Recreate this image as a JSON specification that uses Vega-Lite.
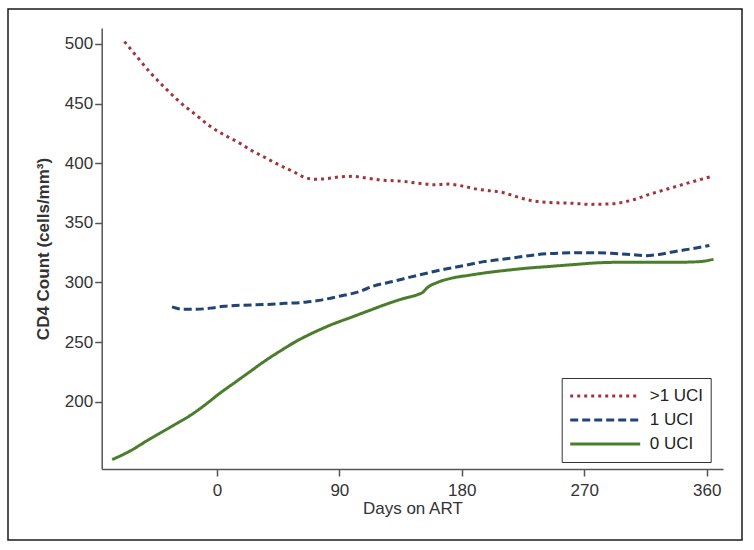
{
  "$schema": "https://vega.github.io/schema/vega-lite/v6.json",
  "autosize": {"type": "none"},
  "width": 734,
  "height": 531,
  "padding": {"left": 8, "top": 9, "right": 12, "bottom": 10},
  "background": "white",
  "config": {
    "view": {"stroke": "#1a1a1a", "strokeWidth": 1.5},
    "font": "Liberation Sans"
  },
  "data": {
    "values": [
      {"group": ">1 UCI", "day": -68, "cd4": 502},
      {"group": ">1 UCI", "day": -60, "cd4": 491},
      {"group": ">1 UCI", "day": -49, "cd4": 476},
      {"group": ">1 UCI", "day": -38, "cd4": 463},
      {"group": ">1 UCI", "day": -28, "cd4": 452},
      {"group": ">1 UCI", "day": -16, "cd4": 441},
      {"group": ">1 UCI", "day": -5, "cd4": 431},
      {"group": ">1 UCI", "day": 5, "cd4": 424},
      {"group": ">1 UCI", "day": 15, "cd4": 418},
      {"group": ">1 UCI", "day": 25, "cd4": 411},
      {"group": ">1 UCI", "day": 35, "cd4": 405},
      {"group": ">1 UCI", "day": 45, "cd4": 399},
      {"group": ">1 UCI", "day": 56, "cd4": 393},
      {"group": ">1 UCI", "day": 65, "cd4": 388},
      {"group": ">1 UCI", "day": 72, "cd4": 386.5},
      {"group": ">1 UCI", "day": 80, "cd4": 387},
      {"group": ">1 UCI", "day": 90, "cd4": 388.5},
      {"group": ">1 UCI", "day": 100, "cd4": 389},
      {"group": ">1 UCI", "day": 110, "cd4": 387.5},
      {"group": ">1 UCI", "day": 120, "cd4": 386},
      {"group": ">1 UCI", "day": 135, "cd4": 385},
      {"group": ">1 UCI", "day": 150, "cd4": 383},
      {"group": ">1 UCI", "day": 160, "cd4": 382},
      {"group": ">1 UCI", "day": 170, "cd4": 382.5},
      {"group": ">1 UCI", "day": 180, "cd4": 381},
      {"group": ">1 UCI", "day": 190, "cd4": 378.5},
      {"group": ">1 UCI", "day": 200, "cd4": 377},
      {"group": ">1 UCI", "day": 210, "cd4": 375.5},
      {"group": ">1 UCI", "day": 220, "cd4": 372},
      {"group": ">1 UCI", "day": 230, "cd4": 369},
      {"group": ">1 UCI", "day": 245, "cd4": 367},
      {"group": ">1 UCI", "day": 260, "cd4": 366.5},
      {"group": ">1 UCI", "day": 275, "cd4": 365.5},
      {"group": ">1 UCI", "day": 290, "cd4": 366},
      {"group": ">1 UCI", "day": 305, "cd4": 369},
      {"group": ">1 UCI", "day": 318, "cd4": 374},
      {"group": ">1 UCI", "day": 330, "cd4": 378},
      {"group": ">1 UCI", "day": 345, "cd4": 383},
      {"group": ">1 UCI", "day": 364, "cd4": 389},

      {"group": "1 UCI", "day": -33, "cd4": 279.5},
      {"group": "1 UCI", "day": -25, "cd4": 277.5},
      {"group": "1 UCI", "day": -15, "cd4": 277.5},
      {"group": "1 UCI", "day": -5, "cd4": 278.5},
      {"group": "1 UCI", "day": 5, "cd4": 280},
      {"group": "1 UCI", "day": 20, "cd4": 281},
      {"group": "1 UCI", "day": 35, "cd4": 281.5},
      {"group": "1 UCI", "day": 50, "cd4": 282.5},
      {"group": "1 UCI", "day": 65, "cd4": 283.5},
      {"group": "1 UCI", "day": 75, "cd4": 285},
      {"group": "1 UCI", "day": 90, "cd4": 288.5},
      {"group": "1 UCI", "day": 105, "cd4": 292.5},
      {"group": "1 UCI", "day": 115, "cd4": 297},
      {"group": "1 UCI", "day": 130, "cd4": 301},
      {"group": "1 UCI", "day": 142, "cd4": 304.5},
      {"group": "1 UCI", "day": 155, "cd4": 308},
      {"group": "1 UCI", "day": 169, "cd4": 311.5},
      {"group": "1 UCI", "day": 183, "cd4": 314.5},
      {"group": "1 UCI", "day": 196, "cd4": 317.5},
      {"group": "1 UCI", "day": 210, "cd4": 319.5},
      {"group": "1 UCI", "day": 223, "cd4": 321.5},
      {"group": "1 UCI", "day": 236, "cd4": 323.5},
      {"group": "1 UCI", "day": 250, "cd4": 324.5},
      {"group": "1 UCI", "day": 265, "cd4": 325},
      {"group": "1 UCI", "day": 277, "cd4": 325},
      {"group": "1 UCI", "day": 290, "cd4": 324.5},
      {"group": "1 UCI", "day": 304, "cd4": 323.5},
      {"group": "1 UCI", "day": 315, "cd4": 322.5},
      {"group": "1 UCI", "day": 325, "cd4": 323.5},
      {"group": "1 UCI", "day": 336, "cd4": 325.8},
      {"group": "1 UCI", "day": 350, "cd4": 328.5},
      {"group": "1 UCI", "day": 362, "cd4": 331},

      {"group": "0 UCI", "day": -77, "cd4": 151.5},
      {"group": "0 UCI", "day": -65, "cd4": 158},
      {"group": "0 UCI", "day": -49, "cd4": 169},
      {"group": "0 UCI", "day": -33, "cd4": 179.5},
      {"group": "0 UCI", "day": -17, "cd4": 190.5},
      {"group": "0 UCI", "day": -8, "cd4": 198},
      {"group": "0 UCI", "day": 2, "cd4": 207},
      {"group": "0 UCI", "day": 13, "cd4": 216},
      {"group": "0 UCI", "day": 24, "cd4": 225},
      {"group": "0 UCI", "day": 35, "cd4": 234},
      {"group": "0 UCI", "day": 46.5, "cd4": 242.5},
      {"group": "0 UCI", "day": 58, "cd4": 250.5},
      {"group": "0 UCI", "day": 71, "cd4": 258},
      {"group": "0 UCI", "day": 85, "cd4": 265},
      {"group": "0 UCI", "day": 98, "cd4": 270.5},
      {"group": "0 UCI", "day": 112, "cd4": 276.5},
      {"group": "0 UCI", "day": 125, "cd4": 282},
      {"group": "0 UCI", "day": 137, "cd4": 286.5},
      {"group": "0 UCI", "day": 148, "cd4": 290},
      {"group": "0 UCI", "day": 151, "cd4": 291.5},
      {"group": "0 UCI", "day": 155, "cd4": 296},
      {"group": "0 UCI", "day": 162, "cd4": 300},
      {"group": "0 UCI", "day": 172, "cd4": 303.5},
      {"group": "0 UCI", "day": 185, "cd4": 306},
      {"group": "0 UCI", "day": 200, "cd4": 308.5},
      {"group": "0 UCI", "day": 215, "cd4": 310.5},
      {"group": "0 UCI", "day": 228, "cd4": 312},
      {"group": "0 UCI", "day": 245, "cd4": 313.5},
      {"group": "0 UCI", "day": 262, "cd4": 315},
      {"group": "0 UCI", "day": 280, "cd4": 316.5},
      {"group": "0 UCI", "day": 300, "cd4": 317},
      {"group": "0 UCI", "day": 320, "cd4": 317},
      {"group": "0 UCI", "day": 340, "cd4": 317},
      {"group": "0 UCI", "day": 355, "cd4": 317.5},
      {"group": "0 UCI", "day": 365, "cd4": 319.5}
    ]
  },
  "mark": {"type": "line", "interpolate": "monotone", "strokeWidth": 3},
  "encoding": {
    "x": {
      "field": "day", "type": "quantitative",
      "scale": {"domain": [-84.7, 372], "range": [93.7, 715], "nice": false, "zero": false},
      "axis": {
        "title": "Days on ART", "values": [0, 90, 180, 270, 360], "grid": false,
        "offset": -71, "tickSize": 7, "tickColor": "#555", "tickWidth": 1.5,
        "domainColor": "#555", "domainWidth": 1.5,
        "labelFontSize": 17, "labelColor": "#333", "labelPadding": 6,
        "titleFontSize": 17, "titleFontWeight": "normal", "titleColor": "#333", "titlePadding": 2
      }
    },
    "y": {
      "field": "cd4", "type": "quantitative",
      "scale": {"domain": [143.6, 513.4], "range": [460, 19], "nice": false, "zero": false},
      "axis": {
        "title": "CD4 Count (cells/mm³)", "values": [200, 250, 300, 350, 400, 450, 500], "grid": false,
        "offset": -93.7, "tickSize": 7, "tickColor": "#555", "tickWidth": 1.5,
        "domainColor": "#555", "domainWidth": 1.5,
        "labelFontSize": 17, "labelColor": "#333", "labelPadding": 2,
        "titleFontSize": 17, "titleFontWeight": "bold", "titleColor": "#333", "titlePadding": 12
      }
    },
    "color": {
      "field": "group", "type": "nominal",
      "scale": {"domain": [">1 UCI", "1 UCI", "0 UCI"], "range": ["#a3323c", "#1f4475", "#4a7d2c"]},
      "legend": {
        "title": null, "orient": "none", "legendX": 553.7, "legendY": 369,
        "padding": 7, "strokeColor": "#333", "fillColor": "white", "cornerRadius": 0,
        "symbolType": "stroke", "symbolSize": 4900, "symbolStrokeWidth": 3, "clipHeight": 22,
        "labelFontSize": 17, "labelColor": "#222", "labelOffset": 8, "rowPadding": 2
      }
    },
    "strokeDash": {
      "field": "group", "type": "nominal",
      "scale": {"domain": [">1 UCI", "1 UCI", "0 UCI"], "range": [[3, 4], [8, 4], [1, 0]]},
      "legend": {
        "title": null, "orient": "none", "legendX": 553.7, "legendY": 369,
        "padding": 7, "strokeColor": "#333", "fillColor": "white", "cornerRadius": 0,
        "symbolType": "stroke", "symbolSize": 4900, "symbolStrokeWidth": 3, "clipHeight": 22,
        "labelFontSize": 17, "labelColor": "#222", "labelOffset": 8, "rowPadding": 2
      }
    }
  }
}
